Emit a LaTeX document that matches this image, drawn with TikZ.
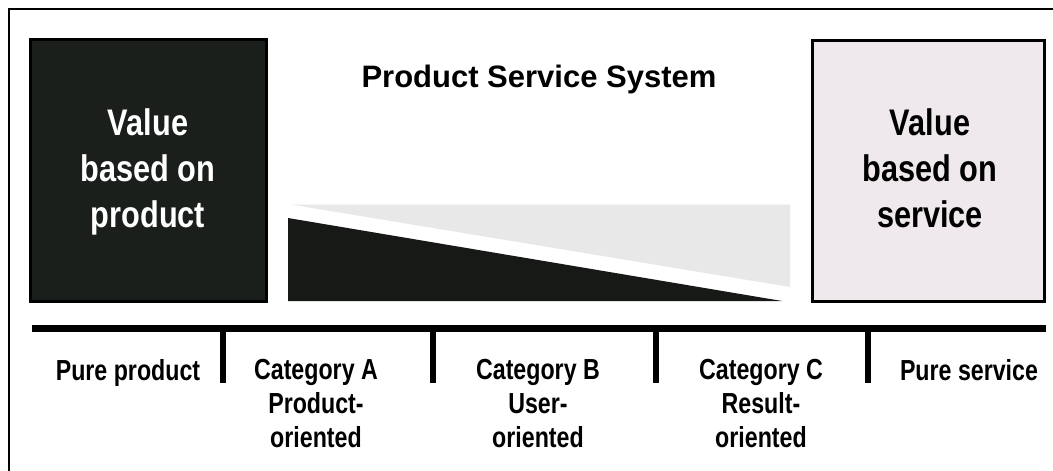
\documentclass[tikz,border=0pt]{standalone}
\usepackage{fontspec}
\setmainfont{Liberation Sans}
\newfontfamily\boxfont[FakeStretch=0.83]{Liberation Sans}
\newfontfamily\labfont[FakeStretch=0.8]{Liberation Sans}
\definecolor{darkfill}{HTML}{1B1F1C}
\definecolor{lightfill}{HTML}{EFE9ED}
\definecolor{wedgegray}{HTML}{E8E8E8}
\tikzset{
  valuebox/.style={draw=black, line width=3pt},
  boxtext/.style={anchor=north, align=center, inner sep=0pt, font=\boxfont\bfseries\fontsize{37}{46}\selectfont},
  labtext/.style={anchor=north, align=center, inner sep=0pt, font=\labfont\bfseries\fontsize{29}{34}\selectfont},
  tick/.style={line width=6pt},
}
\begin{document}
\begin{tikzpicture}[x=1pt,y=-1pt]
\useasboundingbox (0,0) rectangle (1053,471);
\clip (0,0) rectangle (1053,471);
\fill[white] (0,0) rectangle (1053,471);
% outer frame
\draw[line width=2.7pt] (9,490) -- (9,9) -- (1070,9);
% boxes
\draw[valuebox, fill=darkfill] (30.5,39.5) rectangle (266,301);
\draw[valuebox, fill=lightfill] (812,40) rectangle (1044,301);
\node[boxtext, text=white] (lefttext) at (148,108.5) {Value\\based on\\product};
\node[boxtext, text=black] (righttext) at (930,108.5) {Value\\based on\\service};
% title
\node[anchor=base, inner sep=0pt, font=\bfseries\fontsize{31}{37}\selectfont] (title) at (539,87) {Product Service System};
% wedge
\fill[wedgegray] (291,204.5) -- (790,204.5) -- (790,287) -- cycle;
\fill[darkfill!80!black] (288,218) -- (782,301) -- (288,301) -- cycle;
% axis
\coordinate (barL) at (32,328.5);
\coordinate (barR) at (1046,328.5);
\draw[line width=7.5pt] (barL) -- (barR);
\coordinate (t1a) at (222.5,328.5); \coordinate (t1b) at (222.5,383);
\coordinate (t2a) at (433,328.5);   \coordinate (t2b) at (433,383);
\coordinate (t3a) at (656,328.5);   \coordinate (t3b) at (656,383);
\coordinate (t4a) at (868,328.5);   \coordinate (t4b) at (868,383);
\draw[tick] (t1a) -- (t1b);
\draw[tick] (t2a) -- (t2b);
\draw[tick] (t3a) -- (t3b);
\draw[tick] (t4a) -- (t4b);
% labels
\node[labtext] (pp) at (128,359) {Pure product};
\node[labtext] (ca) at (316,359) {Category A\\Product-\\oriented};
\node[labtext] (cb) at (538,359) {Category B\\User-\\oriented};
\node[labtext] (cc) at (761,359) {Category C\\Result-\\oriented};
\node[labtext] (ps) at (969,359) {Pure service};
\end{tikzpicture}
\end{document}
